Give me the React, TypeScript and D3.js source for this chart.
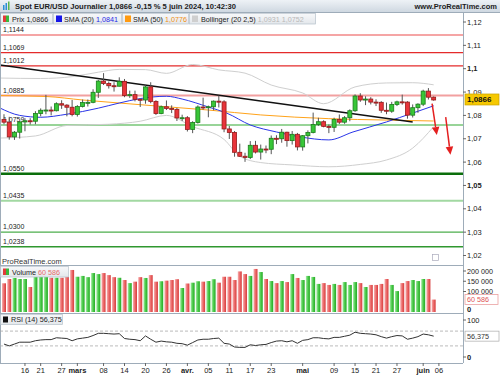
import React from "react";
import * as d3 from "d3";

// trading days (EUR/USD daily, weekdays only)
const days = d3.timeDay
  .range(new Date(2024, 1, 12), new Date(2024, 5, 15))
  .filter((d) => d.getDay() !== 0 && d.getDay() !== 6);
const fmtKey = d3.timeFormat("%Y-%m-%d");
const dayKeys = days.map(fmtKey);

const open = [
  1.0783, 1.0771, 1.0708, 1.0728, 1.0772, 1.0777, 1.0775, 1.0808, 1.0822, 1.0823,
  1.082, 1.085, 1.0844, 1.0835, 1.0804, 1.0838, 1.0855, 1.0856, 1.0899, 1.0947,
  1.0937, 1.0927, 1.0925, 1.0946, 1.0885, 1.0889, 1.0869, 1.0866, 1.0922, 1.086,
  1.0808, 1.0837, 1.083, 1.0826, 1.0789, 1.079, 1.074, 1.077, 1.0836, 1.0835,
  1.0837, 1.0861, 1.0858, 1.0742, 1.0727, 1.0642, 1.0625, 1.062, 1.0672, 1.0643,
  1.0656, 1.0655, 1.0702, 1.07, 1.0728, 1.0692, 1.0719, 1.0665, 1.0713, 1.0727,
  1.0761, 1.0773, 1.0753, 1.0749, 1.0783, 1.0771, 1.079, 1.082, 1.0883, 1.0866,
  1.087, 1.0857, 1.0856, 1.0822, 1.0818, 1.0847, 1.0858, 1.0857, 1.0801, 1.0833,
  1.0848, 1.0904, 1.0878,
];
const high = [
  1.0805, 1.0794, 1.0733, 1.0776, 1.0788, 1.0788, 1.0818, 1.083, 1.0888, 1.0838,
  1.0856, 1.0865, 1.0848, 1.0866, 1.0844, 1.0868, 1.0868, 1.0912, 1.0952, 1.0981,
  1.0945, 1.0942, 1.0963, 1.0956, 1.0906, 1.0906, 1.0873, 1.0928, 1.0942, 1.0865,
  1.0842, 1.0864, 1.0843, 1.0832, 1.0803, 1.0797, 1.0775, 1.0843, 1.0876, 1.0842,
  1.0864, 1.0885, 1.0865, 1.0755, 1.0733, 1.0679, 1.064, 1.069, 1.0691, 1.0675,
  1.0671, 1.0714, 1.0715, 1.0742, 1.073, 1.0733, 1.0725, 1.0716, 1.0736, 1.0812,
  1.079, 1.0779, 1.0761, 1.079, 1.0804, 1.0797, 1.0826, 1.089, 1.0895, 1.0882,
  1.0878, 1.0869, 1.0861, 1.0855, 1.0858, 1.0863, 1.0889, 1.0861, 1.0847, 1.0852,
  1.091, 1.0917, 1.0881,
];
const low = [
  1.0762, 1.0696, 1.0695, 1.0701, 1.0732, 1.0761, 1.0762, 1.0796, 1.0805, 1.08,
  1.0817, 1.0828, 1.0796, 1.0796, 1.0795, 1.0834, 1.0838, 1.0852, 1.0875, 1.093,
  1.0915, 1.0902, 1.0924, 1.0878, 1.0875, 1.086, 1.0836, 1.085, 1.0852, 1.0802,
  1.0805, 1.0823, 1.081, 1.0776, 1.0776, 1.0731, 1.0724, 1.0765, 1.0824, 1.0792,
  1.0822, 1.0834, 1.0728, 1.0699, 1.0623, 1.0622, 1.0601, 1.0613, 1.0637, 1.0611,
  1.0638, 1.0634, 1.0677, 1.0683, 1.0666, 1.0675, 1.065, 1.0649, 1.068, 1.0723,
  1.0755, 1.0749, 1.0724, 1.0729, 1.0763, 1.0764, 1.0775, 1.0815, 1.0858, 1.0844,
  1.0847, 1.084, 1.0811, 1.0805, 1.0811, 1.084, 1.0846, 1.0786, 1.0791, 1.0811,
  1.084, 1.0868, 1.0863,
];
const close = [
  1.0771, 1.0708, 1.0728, 1.0772, 1.0777, 1.0775, 1.0808, 1.0822, 1.0823, 1.082,
  1.085, 1.0844, 1.0835, 1.0804, 1.0838, 1.0855, 1.0856, 1.0899, 1.0947, 1.0937,
  1.0927, 1.0925, 1.0946, 1.0885, 1.0889, 1.0869, 1.0866, 1.0922, 1.086, 1.0808,
  1.0837, 1.083, 1.0826, 1.0789, 1.079, 1.074, 1.077, 1.0836, 1.0835, 1.0837,
  1.0861, 1.0858, 1.0742, 1.0727, 1.0642, 1.0625, 1.062, 1.0672, 1.0643, 1.0656,
  1.0655, 1.0702, 1.07, 1.0728, 1.0692, 1.0719, 1.0665, 1.0713, 1.0727, 1.0761,
  1.0773, 1.0753, 1.0749, 1.0783, 1.0771, 1.079, 1.082, 1.0883, 1.0866, 1.087,
  1.0857, 1.0856, 1.0822, 1.0818, 1.0847, 1.0858, 1.0857, 1.0801, 1.0833, 1.0848,
  1.0904, 1.0878, 1.0866,
];
// volume in thousands
const volume = [
  140, 161, 166, 161, 161, 122, 180, 182, 178, 167,
  167, 167, 172, 205, 172, 176, 170, 190, 185, 190,
  180, 170, 167, 156, 141, 148, 170, 166, 180, 148,
  150, 153, 156, 160, 117, 139, 143, 150, 148, 151,
  160, 143, 172, 172, 156, 198, 185, 176, 210, 195,
  161, 151, 141, 151, 146, 185, 166, 156, 176, 171,
  137, 141, 132, 137, 132, 146, 132, 146, 141, 122,
  132, 132, 137, 161, 132, 102, 141, 151, 156, 151,
  161, 161, 60.586,
];
const rsi = [
  35, 30, 35, 40, 40, 40, 44, 46, 47, 47,
  52, 51, 50, 44, 49, 51, 53, 58, 64, 64,
  63, 62, 63, 50, 48, 47, 44, 57, 48, 40,
  43, 41, 40, 37, 36, 32, 39, 46, 48, 48,
  50, 51, 37, 35, 27, 26, 26, 33, 31, 33,
  34, 39, 43, 44, 41, 44, 37, 45, 47, 52,
  52, 50, 49, 53, 53, 56, 59, 67, 64, 63,
  62, 60, 55, 51, 55, 58, 57, 48, 51, 55,
  62, 60, 56.375,
];

// indicator lines, read at a few candle positions
const sma20Idx = [-0.8, 3, 7, 12, 18, 22, 26, 31, 34, 39, 42.5, 47, 52, 56.5, 62, 66.6, 73, 78, 82];
const sma20Val = [1.0832, 1.08, 1.0792, 1.0805, 1.0831, 1.0853, 1.0872, 1.0882, 1.087, 1.0836, 1.081, 1.0759, 1.0729, 1.0708, 1.0695, 1.0729, 1.0772, 1.081, 1.0841];
const sma50Idx = [-0.8, 8, 15, 22, 31, 39, 49, 62, 73, 82];
const sma50Val = [1.0885, 1.0881, 1.0866, 1.0853, 1.0837, 1.0823, 1.0802, 1.0786, 1.078, 1.0776];
const bbUpIdx = [-0.8, 7, 13, 18, 22, 27, 31, 36, 41, 46, 51, 57, 61, 67, 73, 78, 82];
const bbUpVal = [1.096, 1.0958, 1.0966, 1.0985, 1.0997, 1.0996, 1.098, 1.1018, 1.0995, 1.0981, 1.093, 1.0896, 1.085, 1.0922, 1.0939, 1.094, 1.0931];
const bbLoIdx = [-0.8, 6, 12, 20, 26, 31, 36, 42, 45, 49, 55, 62, 68, 73, 78, 82];
const bbLoVal = [1.0703, 1.0712, 1.0757, 1.0762, 1.0775, 1.08, 1.0752, 1.0697, 1.0625, 1.0598, 1.0588, 1.058, 1.059, 1.0609, 1.066, 1.0752];

// drawn objects
const levels = [1.1144, 1.1069, 1.1012, 1.0885, 1.0759, 1.055, 1.0435, 1.03, 1.0238];
const levelLabels = ["1,1144", "1,1069", "1,1012", "1,0885", "1,0759", "1,0550", "1,0435", "1,0300", "1,0238"];
const levelColors = ["#f5a5a5", "#e42b2b", "#e42b2b", "#f2a0a0", "#98d498", "#0b6e0b", "#a2d8a2", "#4cae4c", "#2f982f"];
const levelWidths = [2, 1.2, 1.2, 2, 2, 2.5, 2, 1.2, 1.5];
const trendIdx = [-0.8, 78];
const trendVal = [1.1016, 1.0772];
const arrowFromIdx = [81.7, 84.3];
const arrowFromVal = [1.085, 1.0793];
const arrowToIdx = [82.6, 85.2];
const arrowToVal = [1.0716, 1.0632];

const priceTicks = [1.12, 1.11, 1.1, 1.09, 1.08, 1.07, 1.06, 1.05, 1.04, 1.03, 1.02];
const volTicks = [200000, 150000, 100000];
const tickDates = ["2024-02-16", "2024-02-21", "2024-02-27", "2024-03-01", "2024-03-08", "2024-03-14", "2024-03-20", "2024-03-26", "2024-04-01", "2024-04-05", "2024-04-11", "2024-04-17", "2024-04-23", "2024-05-01", "2024-05-09", "2024-05-15", "2024-05-21", "2024-05-27", "2024-06-03", "2024-06-06"];
const tickLabels = ["16", "21", "27", "mars", "08", "14", "20", "26", "avr.", "05", "11", "17", "23", "mai", "09", "15", "21", "27", "juin", "06"];

const AX = 463;
const FONT = "'Liberation Sans', Arial, sans-serif";

export default function App() {
  const x = d3.scaleLinear().domain([-0.763, 87.6]).range([0, AX]);
  const yP = d3.scaleLinear().domain([1.02, 1.12]).range([255.5, 22]);
  const yV = d3.scaleLinear().domain([0, 200000]).range([312, 271]);
  const yR = d3.scaleLinear().domain([0, 100]).range([357, 320]);
  const fr = d3.format(",.4f");
  const idx = (k: string) => dayKeys.indexOf(k);

  const curve = (xs: number[], vs: number[]) =>
    d3
      .line<number>()
      .x((_, i) => x(xs[i]))
      .y((v) => yP(v))
      .curve(d3.curveMonotoneX)(vs) || "";

  const rsiPath =
    d3
      .line<number>()
      .x((_, i) => x(i))
      .y((v) => yR(v))(rsi) || "";

  const up = (i: number) => close[i] >= open[i];

  return (
    <svg
      width={500}
      height={375}
      style={{ position: "absolute", left: 0, top: 0, background: "#fff" }}
      fontFamily={FONT}
    >
      <defs>
        <linearGradient id="hdr" x1="0" y1="0" x2="0" y2="1">
          <stop offset="0" stopColor="#eef2f6" />
          <stop offset="1" stopColor="#cfd8e1" />
        </linearGradient>
        <linearGradient id="box" x1="0" y1="0" x2="0" y2="1">
          <stop offset="0" stopColor="#f7f8fa" />
          <stop offset="1" stopColor="#e3e7eb" />
        </linearGradient>
        <linearGradient id="vg" x1="0" y1="0" x2="1" y2="0">
          <stop offset="0" stopColor="#a8eba8" />
          <stop offset="0.5" stopColor="#4ccc4c" />
          <stop offset="1" stopColor="#25a825" />
        </linearGradient>
        <linearGradient id="vr" x1="0" y1="0" x2="1" y2="0">
          <stop offset="0" stopColor="#f5b0b0" />
          <stop offset="0.5" stopColor="#ec6a6a" />
          <stop offset="1" stopColor="#d63c3c" />
        </linearGradient>
        <clipPath id="main">
          <rect x={0} y={12} width={AX} height={253} />
        </clipPath>
        <clipPath id="vol">
          <rect x={0} y={265} width={AX} height={48} />
        </clipPath>
      </defs>

      {/* header */}
      <rect x={0} y={0} width={500} height={12} fill="url(#hdr)" />
      <line x1={0} x2={500} y1={12.5} y2={12.5} stroke="#9eacb9" />
      <rect x={3} y={5} width={1.5} height={5} fill="#2d8fd6" />
      <rect x={5.5} y={3} width={1.5} height={7} fill="#2d8fd6" />
      <rect x={8} y={1.5} width={1.5} height={8.5} fill="#5bb54b" />
      <text x={15} y={9.2} fontSize={8} fontWeight="bold" fill="#1c1c1c" textLength={221} lengthAdjust="spacingAndGlyphs">
        Spot EUR/USD Journalier 1,0866 -0,15 % 5 juin 2024, 10:42:30
      </text>
      <text x={497} y={9} fontSize={7.5} fontWeight="bold" fill="#1c1c1c" textAnchor="end">
        www.ProRealTime.com
      </text>

      {/* main panel */}
      <g clipPath="url(#main)">
        {levels.map((lv, i) => (
          <g key={"lv" + i}>
            <line x1={0} x2={AX} y1={yP(lv)} y2={yP(lv)} stroke={levelColors[i]} strokeWidth={levelWidths[i]} />
            <text x={3} y={yP(lv) - 3} fontSize={7} fill="#222">
              {levelLabels[i]}
            </text>
          </g>
        ))}
        <path d={curve(bbUpIdx, bbUpVal)} fill="none" stroke="#cfcfcf" strokeWidth={1} />
        <path d={curve(bbLoIdx, bbLoVal)} fill="none" stroke="#cfcfcf" strokeWidth={1} />
        <path d={curve(sma50Idx, sma50Val)} fill="none" stroke="#ffa31a" strokeWidth={1} />
        <path d={curve(sma20Idx, sma20Val)} fill="none" stroke="#2a35e8" strokeWidth={1} />
        <line
          x1={x(trendIdx[0])}
          y1={yP(trendVal[0])}
          x2={x(trendIdx[1])}
          y2={yP(trendVal[1])}
          stroke="#111"
          strokeWidth={1.5}
        />
        {close.map((c, i) => {
          const cx = x(i);
          const yo = yP(open[i]);
          const yc = yP(c);
          const top = Math.min(yo, yc);
          const h = Math.max(1, Math.abs(yo - yc));
          return (
            <g key={"c" + i}>
              <line x1={cx} x2={cx} y1={yP(high[i])} y2={yP(low[i])} stroke="#555" strokeWidth={1} />
              <rect
                x={cx - 2}
                y={top}
                width={4}
                height={h}
                fill={up(i) ? "#38c638" : "#e8343a"}
                stroke={up(i) ? "#1b7d1b" : "#961b1b"}
                strokeWidth={0.8}
              />
            </g>
          );
        })}
        {arrowFromIdx.map((ai, i) => {
          const x1 = x(ai);
          const y1 = yP(arrowFromVal[i]);
          const x2 = x(arrowToIdx[i]);
          const y2 = yP(arrowToVal[i]);
          const a = Math.atan2(y2 - y1, x2 - x1);
          const L = 8;
          const Wd = 3.8;
          const bx = x2 - L * Math.cos(a);
          const by = y2 - L * Math.sin(a);
          const px = -Math.sin(a) * Wd;
          const py = Math.cos(a) * Wd;
          return (
            <g key={"ar" + i}>
              <line x1={x1} y1={y1} x2={bx} y2={by} stroke="#e42020" strokeWidth={1.5} />
              <path d={`M${x2},${y2}L${bx + px},${by + py}L${bx - px},${by - py}Z`} fill="#e42020" />
            </g>
          );
        })}
        <text x={2} y={263.5} fontSize={7.5} fill="#333">
          ProRealTime.com
        </text>
        <rect x={432.5} y={254.5} width={6} height={6} fill="#fff" stroke="#aab" strokeWidth={0.7} />
      </g>

      {/* legend row */}
      <g fontSize={7.2}>
        <rect x={0.5} y={13.5} width={52} height={10.5} fill="url(#box)" stroke="#b5c0ca" strokeWidth={0.7} />
        <rect x={3} y={15.5} width={3} height={6.5} fill="#e23b3b" />
        <rect x={6} y={15.5} width={3} height={6.5} fill="#3bb83b" />
        <text x={12} y={21.5} fill="#222">Prix 1,0866</text>
        <rect x={53.5} y={13.5} width={68} height={10.5} fill="url(#box)" stroke="#b5c0ca" strokeWidth={0.7} />
        <rect x={56} y={15.5} width={6} height={6.5} fill="#1616e8" />
        <text x={64} y={21.5} fill="#222">
          SMA (20) <tspan fill="#2727e6">1,0841</tspan>
        </text>
        <rect x={122.5} y={13.5} width={66} height={10.5} fill="url(#box)" stroke="#b5c0ca" strokeWidth={0.7} />
        <rect x={125} y={15.5} width={6} height={6.5} fill="#ff9a10" />
        <text x={133} y={21.5} fill="#222">
          SMA (50) <tspan fill="#f09010">1,0776</tspan>
        </text>
        <rect x={189.5} y={13.5} width={126} height={10.5} fill="url(#box)" stroke="#b5c0ca" strokeWidth={0.7} />
        <rect x={192} y={15.5} width={6} height={6.5} fill="#cfcfcf" />
        <text x={201} y={21.5} fill="#222">
          Bollinger (20 2,5) <tspan fill="#b8b8b8">1,0931 1,0752</tspan>
        </text>
      </g>

      {/* price axis */}
      <line x1={AX + 0.5} x2={AX + 0.5} y1={12} y2={363} stroke="#9eacb9" />
      <line x1={0.5} x2={0.5} y1={12} y2={363} stroke="#9eacb9" />
      {priceTicks.map((t) => {
        const bold = Math.abs(t * 100 - Math.round(t * 20) * 5) < 1e-6;
        return (
          <g key={"pt" + t}>
            <line x1={AX} x2={AX + 3} y1={yP(t)} y2={yP(t)} stroke="#666" />
            <text x={AX + 4} y={yP(t) + 2.6} fontSize={7.5} fontWeight={bold ? "bold" : "normal"} fill="#222">
              {d3.format(".2~f")(t).replace(".", ",")}
            </text>
          </g>
        );
      })}
      <rect x={AX + 2} y={yP(close[82]) - 6} width={34} height={11} fill="#f6c800" stroke="#c9a200" strokeWidth={0.7} />
      <text x={AX + 4} y={yP(close[82]) + 2.5} fontSize={8} fontWeight="bold" fill="#111">
        {fr(close[82]).replace(".", ",")}
      </text>

      {/* volume panel */}
      <line x1={0} x2={AX} y1={265.5} y2={265.5} stroke="#9eacb9" />
      <g clipPath="url(#vol)">
        {volume.map((v, i) => (
          <rect
            key={"v" + i}
            x={x(i) - 2}
            y={yV(v * 1000)}
            width={4}
            height={yV(0) - yV(v * 1000)}
            fill={up(i) ? "url(#vg)" : "url(#vr)"}
          />
        ))}
      </g>
      <rect x={0.5} y={266.5} width={68} height={10.5} fill="url(#box)" stroke="#b5c0ca" strokeWidth={0.7} />
      <rect x={3} y={268.5} width={3} height={6.5} fill="#e23b3b" />
      <rect x={6} y={268.5} width={3} height={6.5} fill="#3bb83b" />
      <text x={12} y={274.5} fontSize={7.2} fill="#222">
        Volume <tspan fill="#e86a6a">60 586</tspan>
      </text>
      {volTicks.map((t) => (
        <g key={"vt" + t}>
          <line x1={AX} x2={AX + 3} y1={yV(t)} y2={yV(t)} stroke="#666" />
          <text x={AX + 4} y={yV(t) + 2.6} fontSize={7.2} fill="#222">
            {d3.format(",")(t).replace(",", " ")}
          </text>
        </g>
      ))}
      <rect x={AX + 2} y={yV(60586) - 5} width={33} height={10} fill="#fff" stroke="#eaa0a0" strokeWidth={0.8} />
      <text x={AX + 4} y={yV(60586) + 2.6} fontSize={7.2} fill="#e05555">
        60 586
      </text>
      <text x={AX + 4} y={312} fontSize={7.5} fontWeight="bold" fill="#222">
        0
      </text>

      {/* RSI panel */}
      <line x1={0} x2={AX} y1={313.5} y2={313.5} stroke="#9eacb9" />
      <line x1={0} x2={AX} y1={yR(70)} y2={yR(70)} stroke="#aaa" strokeDasharray="3,2" strokeWidth={0.8} />
      <line x1={0} x2={AX} y1={yR(30)} y2={yR(30)} stroke="#aaa" strokeDasharray="3,2" strokeWidth={0.8} />
      <path d={rsiPath} fill="none" stroke="#333" strokeWidth={1} />
      <rect x={0.5} y={314.5} width={62} height={10} fill="url(#box)" stroke="#b5c0ca" strokeWidth={0.7} />
      <rect x={3} y={316.5} width={5} height={6} fill="#111" />
      <text x={11} y={322.3} fontSize={7.2} fill="#222">
        RSI (14) 56,375
      </text>
      <line x1={AX} x2={AX + 3} y1={yR(100)} y2={yR(100)} stroke="#666" />
      <text x={AX + 4} y={yR(100) + 2.6} fontSize={7.5} fill="#222">100</text>
      <line x1={AX} x2={AX + 3} y1={yR(0)} y2={yR(0)} stroke="#666" />
      <text x={AX + 4} y={yR(0) + 2.6} fontSize={7.5} fontWeight="bold" fill="#222">0</text>
      <rect x={AX + 2} y={yR(56.375) - 5} width={34} height={10} fill="#fff" stroke="#aaa" strokeWidth={0.7} />
      <text x={AX + 4} y={yR(56.375) + 2.6} fontSize={7.2} fill="#333">56,375</text>

      {/* time axis */}
      <line x1={0} x2={AX} y1={363.5} y2={363.5} stroke="#9eacb9" />
      {tickDates.map((k, i) => {
        const tx = x(idx(k));
        const month = isNaN(Number(tickLabels[i]));
        return (
          <g key={"tk" + k}>
            <line x1={tx} x2={tx} y1={363} y2={366} stroke="#666" />
            <text x={tx} y={373} fontSize={7.5} textAnchor="middle" fontWeight={month ? "bold" : "normal"} fill="#222">
              {tickLabels[i]}
            </text>
          </g>
        );
      })}
    </svg>
  );
}
